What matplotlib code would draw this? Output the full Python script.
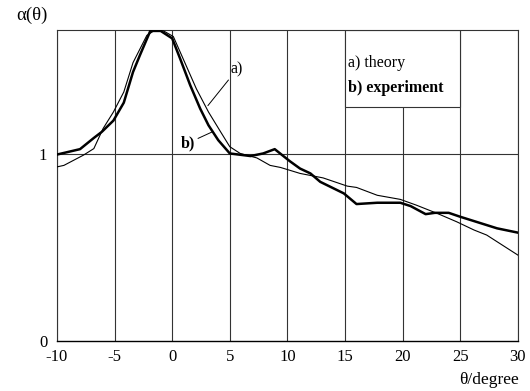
import matplotlib
matplotlib.use("Agg")
import matplotlib.pyplot as plt
from matplotlib.patches import Rectangle

plt.rcParams['font.family'] = ['Liberation Serif', 'DejaVu Serif']

# --- curve a) theory ---
theta_a = [-10, -9.4, -7.7, -6.8, -6.0, -5.1, -4.2, -3.4, -2.2, -1.6, -0.75, 0.1,
           1.1, 2.1, 3.15, 4.2, 5.0, 5.9, 7.35, 8.5, 9.4, 10.2, 11.1, 13.1, 15.2,
           16.0, 17.8, 19.8, 21.2, 23.0, 24.7, 26.2, 27.3, 30]
alpha_a = [0.932, 0.94, 0.995, 1.03, 1.137, 1.226, 1.333, 1.49, 1.636, 1.66, 1.66, 1.63,
           1.49, 1.35, 1.226, 1.12, 1.04, 1.004, 0.98, 0.94, 0.929, 0.914, 0.897, 0.873, 0.829,
           0.822, 0.78, 0.758, 0.727, 0.683, 0.638, 0.594, 0.567, 0.46]

# --- curve b) experiment ---
theta_b = [-10, -8.0, -6.8, -6.1, -5.1, -4.2, -3.4, -2.8, -1.9, -1.0, 0.0, 0.7,
           1.56, 2.43, 3.15, 4.0, 5.0, 6.8, 7.9, 8.9, 10.2, 11.1, 12.0, 12.85, 14.9,
           16.0, 17.8, 19.8, 20.7, 22.0, 22.8, 24.0, 25.0, 28.2, 30]
alpha_b = [0.998, 1.027, 1.087, 1.12, 1.18, 1.276, 1.44, 1.53, 1.66, 1.66, 1.62, 1.51,
           1.37, 1.244, 1.155, 1.075, 1.004, 0.99, 1.004, 1.027, 0.963, 0.923, 0.897, 0.852, 0.79,
           0.733, 0.74, 0.74, 0.722, 0.679, 0.686, 0.686, 0.665, 0.603, 0.58]

xticks = [-10, -5, 0, 5, 10, 15, 20, 25, 30]
yticks = [0, 1]
ytop = 1.665

fig = plt.figure(figsize=(5.3, 3.91), dpi=100)
ax = fig.add_axes([0.1075, 0.128, 0.8695, 0.7953])

gcol = '#333333'
for x in xticks:
    ax.axvline(x, color=gcol, lw=0.8, zorder=1)
ax.axhline(1, color=gcol, lw=0.8, zorder=1)

# legend box (covers the grid between 15 and 25 at the top)
ax.add_patch(Rectangle((15, 1.25), 10, ytop - 1.25, facecolor='white',
                       edgecolor=gcol, lw=0.8, zorder=2))
ax.text(15.25, 1.49, 'a) theory', fontsize=11.5, va='center', zorder=3)
ax.text(15.25, 1.353, 'b) experiment', fontsize=11.5, fontweight='bold', va='center', zorder=3)

ax.plot(theta_a, alpha_a, color='black', lw=0.8, zorder=4)
ax.plot(theta_b, alpha_b, color='black', lw=1.8, zorder=5)

ax.annotate('a)', xy=(3.1, 1.26), xytext=(5.1, 1.455), fontsize=11.5,
            va='center', ha='left',
            arrowprops=dict(arrowstyle='-', color='black', lw=0.7, shrinkA=0, shrinkB=0))
ax.annotate('b)', xy=(3.5, 1.12), xytext=(2.0, 1.06), fontsize=11.5, fontweight='bold',
            va='center', ha='right',
            arrowprops=dict(arrowstyle='-', color='black', lw=0.7, shrinkA=0, shrinkB=0))

ax.set_xlim(-10, 30)
ax.set_ylim(0, ytop)
ax.set_xticks(xticks)
ax.set_xticklabels([str(t) for t in xticks])
ax.set_yticks(yticks)
ax.tick_params(length=0, labelsize=12)
ax.tick_params(axis='x', pad=6)
ax.tick_params(axis='y', pad=7)
for s in ax.spines.values():
    s.set_color(gcol)
    s.set_linewidth(0.8)
ax.spines['bottom'].set_color('black')
ax.spines['bottom'].set_linewidth(1.0)

fig.text(0.03, 0.962, 'α(θ)', fontsize=13.5, va='center', ha='left')
fig.text(0.979, 0.028, 'θ/degree', fontsize=12.5, va='center', ha='right')

fig.savefig('out.png', dpi=100)
